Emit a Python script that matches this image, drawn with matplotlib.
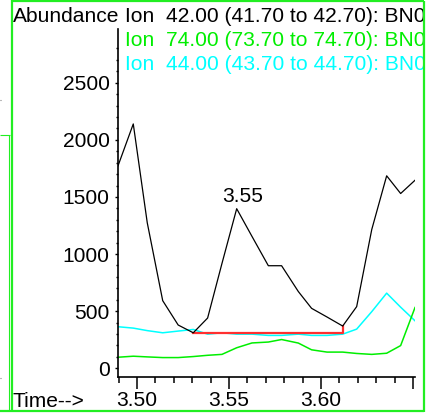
import matplotlib
matplotlib.use("Agg")
import matplotlib.pyplot as plt
from matplotlib.lines import Line2D
from matplotlib.patches import Rectangle

W, H = 427, 415
DPI = 100

# ---- data ----
times = [3.4897, 3.4980, 3.5056, 3.5140, 3.5224, 3.5306, 3.5384, 3.5462,
         3.5542, 3.5625, 3.5714, 3.5786, 3.5877, 3.5949, 3.6033, 3.6118,
         3.6194, 3.6276, 3.6357, 3.6433, 3.6511]
ion42 = [1772, 2139, 1274, 592, 379, 311, 440, 918, 1397, 1155, 898, 898,
         672, 525, 449, 370, 540, 1215, 1685, 1530, 1646]
ion74 = [97, 106, 100, 94, 94, 103, 114, 122, 180, 222, 230, 252, 221, 162,
         142, 142, 130, 122, 132, 199, 532]
ion44 = [364, 352, 330, 311, 326, 340, 299, 311, 299, 299, 288, 288, 299,
         288, 288, 299, 343, 496, 658, 535, 416]
baseline_t = [3.5306, 3.6118, 3.6118]
baseline_v = [311, 311, 370]
peak_label = "3.55"
peak_index = 8
legend_texts = ["Ion  42.00 (41.70 to 42.70): BN0",
                "Ion  74.00 (73.70 to 74.70): BN0",
                "Ion  44.00 (43.70 to 44.70): BN0"]
yticks = [0, 500, 1000, 1500, 2000, 2500]
xticks = [3.50, 3.55, 3.60, 3.65]
xticklabels = ["3.50", "3.55", "3.60", ""]
xminor = [3.49, 3.51, 3.52, 3.53, 3.54, 3.56, 3.57, 3.58, 3.59, 3.61,
          3.62, 3.63, 3.64]

plt.rcParams['font.family'] = ['Liberation Sans', 'DejaVu Sans']
FS = 15.1

fig = plt.figure(figsize=(W / DPI, H / DPI), dpi=DPI)
fig.patch.set_facecolor('white')

def fx(x):
    return x / W

def fy(y):
    return 1 - y / H

ax_l, ax_r, ax_t, ax_b = 118, 415, 29, 377
ax = fig.add_axes([fx(ax_l), fy(ax_b), (ax_r - ax_l) / W, (ax_b - ax_t) / H])
ax.set_xlim(3.4897, 3.6511)
ax.set_ylim(-76, 2970)
ax.patch.set_alpha(0)

for s in ['top', 'right']:
    ax.spines[s].set_visible(False)
for s in ['left', 'bottom']:
    ax.spines[s].set_linewidth(1.2)

ax.plot(times, ion44, color='#00ffff', lw=1.1, zorder=2)
ax.plot(times, ion74, color='#00ee00', lw=1.1, zorder=2)
ax.plot(baseline_t, baseline_v, color='#ff3030', lw=1.6, zorder=3)
ax.plot(times, ion42, color='black', lw=0.9, zorder=4)

ax.annotate(peak_label, xy=(times[peak_index], ion42[peak_index]),
            xytext=(4.5, 4.5), textcoords='offset points',
            ha='center', va='baseline', fontsize=FS)

ax.set_yticks(yticks)
ax.set_yticklabels([str(v) for v in yticks])
ax.set_yticks(list(range(100, 2900, 100)), minor=True)
ax.tick_params(axis='y', which='major', direction='out', length=2.5,
               width=1, pad=3.5, labelsize=FS)
ax.tick_params(axis='y', which='minor', direction='out', length=1.2, width=1)

ax.set_xticks(xticks)
ax.set_xticklabels(xticklabels)
ax.set_xticks(xminor, minor=True)
ax.tick_params(axis='x', which='major', direction='out', length=8.6,
               width=1.1, pad=1.2, labelsize=FS)
ax.tick_params(axis='x', which='minor', direction='out', length=4.3, width=1.1)

# header texts
fig.text(fx(13), fy(22), "Abundance", fontsize=FS, va='baseline', ha='left')
cols = ['black', '#00ee00', '#00ffff']
bases = [22, 46, 70]
for t, c, b in zip(legend_texts, cols, bases):
    fig.text(fx(125), fy(b), t, fontsize=FS, va='baseline', ha='left', color=c)

fig.text(fx(13), fy(406.5), "Time-->", fontsize=FS, va='baseline', ha='left')

# white mask to the right of the frame
fig.patches.append(Rectangle((fx(425), 0), 1 - fx(425), 1,
                             transform=fig.transFigure, facecolor='white',
                             edgecolor='none', zorder=10))

# window frame
g = '#22ee22'
def fline(xs, ys, lw=1.6, color=g):
    fig.add_artist(Line2D([fx(x) for x in xs], [fy(y) for y in ys],
                          transform=fig.transFigure, color=color, lw=lw,
                          zorder=11, solid_capstyle='butt'))

fline([12, 12], [0, 412])
fline([11.2, 424.5], [1.5, 1.5])
fline([424, 424], [0.7, 412])
fline([0, 424.5], [411.3, 411.3])
fline([0, 10], [135, 135], lw=0.8)
fline([9.5, 9.5], [135, 411], lw=0.8)
fline([0, 1.5], [100, 100], lw=0.8, color='#777777')
fline([0, 1.5], [378, 378], lw=0.8, color='#777777')

fig.savefig('out.png', dpi=DPI, facecolor='white')
